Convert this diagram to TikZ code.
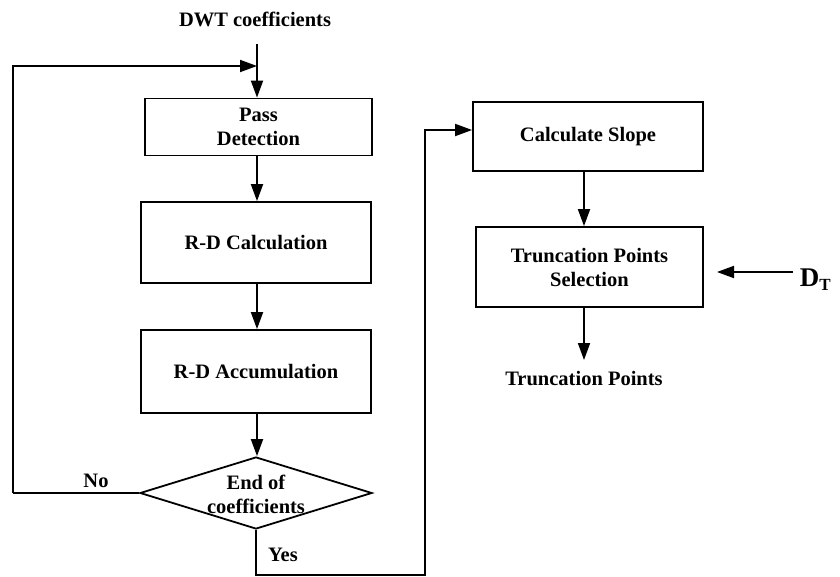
\documentclass[tikz,border=0pt]{standalone}
\usepackage{fontspec}
\setmainfont{Liberation Serif}
\usetikzlibrary{arrows.meta,shapes.geometric}
\begin{document}
\begin{tikzpicture}[x=1pt,y=-1pt,
  line width=1.8pt,
  every node/.style={font=\bfseries\fontsize{20.5}{23}\selectfont, align=center, inner sep=0pt},
  box/.style={draw, rectangle, line width=1.8pt},
  arr/.style={-{Triangle[length=17pt,width=12pt]}},
  lbl/.style={}]
\useasboundingbox (0,0) rectangle (840,577);
\node[lbl] (dwt) at (255,19) {DWT coefficients};
\coordinate (top) at (257,44);
\coordinate (join) at (257,66);
\node[box, minimum width=227pt, minimum height=57pt] (pass) at (258.5,127) {Pass\\[1pt]Detection};
\node[box, minimum width=230pt, minimum height=81pt] (calc) at (256,242.5) {R-D Calculation};
\node[box, minimum width=230pt, minimum height=83pt] (acc) at (256,371.5) {R-D Accumulation};
\node[draw, diamond, aspect=3.2, minimum width=232pt, minimum height=72pt, line width=1.8pt] (end) at (256,493) {};
\node at (256,494) {End of\\[1pt]coefficients};
\node[box, minimum width=230pt, minimum height=69pt] (slope) at (588,136.5) {Calculate Slope};
\node[box, minimum width=227pt, minimum height=80pt] (sel) at (589.5,267) {Truncation Points\\[1pt]Selection};
\node[lbl] (tp) at (584,379) {Truncation Points};
\node[font=\bfseries\fontsize{27}{29}\selectfont, anchor=base west] (dt) at (799,286) {D\raisebox{-5pt}{\fontsize{17}{19}\selectfont T}};
\coordinate (dtstart) at (793,272);
\coordinate (nol) at (13,493);
\coordinate (nott) at (13,66);
\coordinate (y1) at (256,575);
\coordinate (y2) at (425,575);
\coordinate (y3) at (425,130);
\node[lbl] (no) at (96,481) {No};
\node[lbl] (yes) at (283,555) {Yes};

\draw (top) -- (join);
\draw[arr] (join) -- (pass.north -| join);
\draw[arr] (nol) -- (nott) -- (join);
\draw (end.west) -- (nol);
\draw[arr] (pass.south -| 257,0) -- (calc.north -| 257,0);
\draw[arr] (calc.south -| 257,0) -- (acc.north -| 257,0);
\draw[arr] (acc.south -| 257,0) -- (end.north -| 257,0);
\draw[arr] (end.south) -- (y1) -- (y2) -- (y3) -- (y3 -| slope.west);
\draw[arr] (slope.south -| 584,0) -- (sel.north -| 584,0);
\draw[arr] (sel.south -| 584,0) -- (584,360);
\draw[arr] (dtstart) -- (717,272);
\end{tikzpicture}
\end{document}
